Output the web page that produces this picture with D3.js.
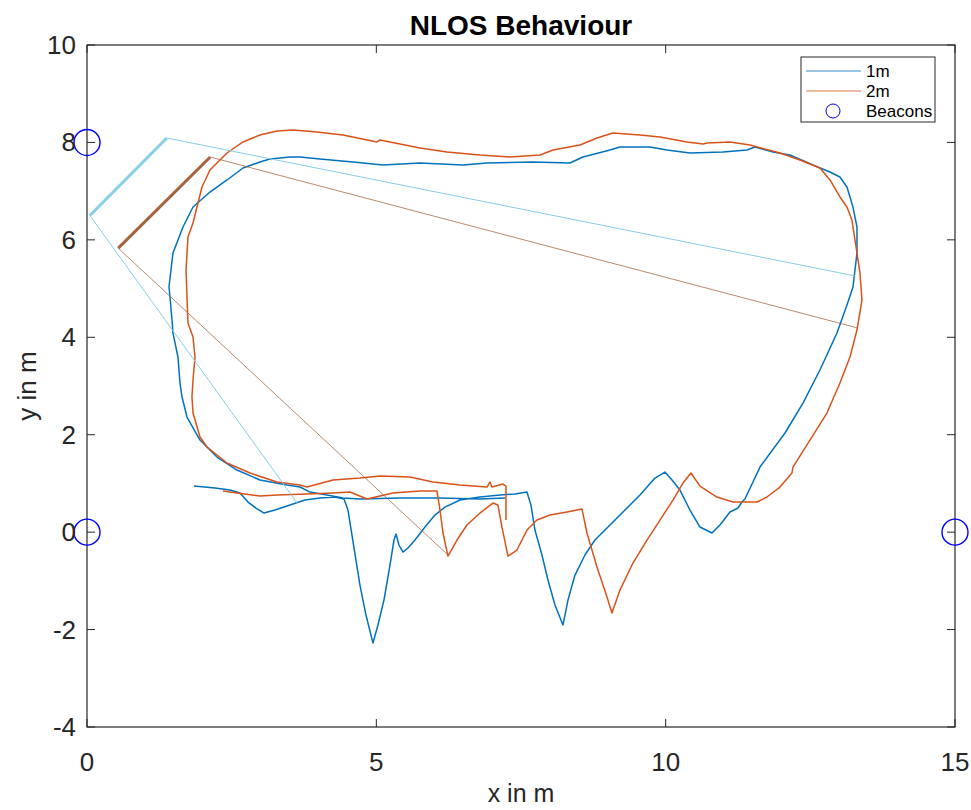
<!DOCTYPE html>
<html>
<head>
<meta charset="utf-8">
<script src="https://cdn.jsdelivr.net/npm/d3@7"></script>
<style>
  html, body { margin: 0; padding: 0; background: #fff; }
  svg { display: block; font-family: "Liberation Sans", Arial, Helvetica, sans-serif; }
</style>
</head>
<body>
<svg id="chart" width="971" height="810"></svg>
<script>
// Tracked positions for the 1 m run (x, y in metres)
const track1m = [
  [1.849,0.946],[2.212,0.905],[2.471,0.864],[2.644,0.803],[2.782,0.618],[2.920,0.495],[3.059,0.392],
  [3.249,0.454],[3.508,0.556],[3.767,0.659],[4.026,0.700],[4.285,0.721],[4.441,0.680],[4.510,0.454],
  [4.579,-0.060],[4.648,-0.573],[4.717,-1.086],[4.821,-1.702],[4.942,-2.277],[5.028,-1.907],[5.132,-1.394],
  [5.236,-0.675],[5.305,-0.162],[5.340,-0.039],[5.391,-0.265],[5.461,-0.409],[5.547,-0.326],[5.668,-0.162],
  [5.841,0.105],[6.013,0.351],[6.186,0.515],[6.446,0.659],[6.791,0.721],[7.137,0.762],[7.396,0.782],
  [7.603,0.823],[7.672,0.556],[7.741,0.043],[7.862,-0.470],[7.966,-0.983],[8.087,-1.497],[8.225,-1.907],
  [8.312,-1.394],[8.433,-0.881],[8.605,-0.470],[8.778,-0.162],[9.038,0.146],[9.297,0.454],[9.556,0.762],
  [9.815,1.111],[9.988,1.234],[10.109,1.070],[10.247,0.864],[10.420,0.454],[10.593,0.105],[10.800,-0.018],
  [10.938,0.146],[11.111,0.413],[11.249,0.495],[11.318,0.618],[11.370,0.680],[11.630,1.336],[12.062,2.035],
  [12.373,2.650],[12.666,3.328],[12.960,4.087],[13.133,4.662],[13.237,5.032],[13.306,5.730],[13.306,6.264],
  [13.237,6.674],[13.133,7.085],[13.012,7.290],[12.839,7.393],[12.545,7.536],[12.148,7.742],[11.854,7.803],
  [11.543,7.906],[11.405,7.844],[10.990,7.803],[10.420,7.783],[10.022,7.844],[9.729,7.906],[9.210,7.906],
  [9.038,7.844],[8.571,7.701],[8.346,7.578],[7.707,7.598],[6.912,7.578],[6.497,7.536],[5.754,7.578],
  [5.115,7.536],[4.597,7.598],[4.026,7.660],[3.681,7.701],[3.508,7.701],[3.162,7.660],[2.989,7.598],
  [2.696,7.475],[2.419,7.229],[2.125,6.982],[1.832,6.674],[1.659,6.264],[1.486,5.730],[1.417,5.032],
  [1.434,4.826],[1.469,4.354],[1.486,4.087],[1.572,3.595],[1.607,3.061],[1.642,2.774],[1.728,2.363],
  [1.953,1.891],[2.246,1.542],[2.592,1.275],[2.989,1.070],[3.456,0.967],[3.681,0.926],[3.853,0.823],
  [4.147,0.762],[4.424,0.700],[4.717,0.680],[5.409,0.700],[6.100,0.700],[6.791,0.680],[7.223,0.700]
];

// Tracked positions for the 2 m run (x, y in metres)
const track2m = [
  [2.350,0.844],[2.592,0.803],[2.989,0.741],[3.283,0.762],[3.802,0.782],[4.251,0.803],[4.545,0.823],
  [4.838,0.680],[5.288,0.803],[5.754,0.844],[6.048,0.844],[6.100,0.454],[6.152,-0.018],[6.238,-0.491],
  [6.394,-0.162],[6.566,0.146],[6.791,0.392],[7.016,0.597],[7.102,0.556],[7.171,0.105],[7.275,-0.491],
  [7.430,-0.367],[7.603,0.043],[7.776,0.248],[8.001,0.351],[8.294,0.413],[8.554,0.474],[8.640,-0.018],
  [8.813,-0.716],[8.986,-1.332],[9.072,-1.661],[9.210,-1.189],[9.435,-0.634],[9.677,-0.162],[9.902,0.248],
  [10.126,0.659],[10.299,1.008],[10.437,1.213],[10.593,0.946],[10.886,0.721],[11.163,0.618],[11.578,0.618],
  [11.750,0.721],[11.975,0.926],[12.182,1.213],[12.200,1.336],[12.493,1.891],[12.787,2.445],[13.012,3.061],
  [13.185,3.595],[13.306,4.149],[13.392,4.765],[13.358,5.319],[13.306,5.730],[13.219,6.407],[13.133,6.674],
  [13.012,6.880],[12.839,7.229],[12.666,7.475],[12.321,7.639],[11.975,7.783],[11.457,7.947],[11.111,8.009],
  [10.714,7.988],[10.645,7.968],[10.368,8.009],[9.902,8.111],[9.556,8.152],[9.089,8.194],[8.813,8.091],
  [8.519,7.947],[8.053,7.844],[7.828,7.742],[7.309,7.701],[6.791,7.742],[6.221,7.803],[5.754,7.885],
  [5.063,8.050],[5.011,8.009],[4.424,8.152],[3.974,8.214],[3.560,8.255],[3.283,8.235],[2.989,8.152],
  [2.696,8.009],[2.419,7.783],[2.125,7.434],[1.987,7.085],[1.918,6.756],[1.832,6.346],[1.745,6.058],
  [1.711,5.381],[1.728,4.826],[1.745,4.293],[1.832,4.005],[1.866,3.595],[1.832,3.123],[1.814,2.774],
  [1.832,2.445],[1.953,1.952],[2.074,1.747],[2.419,1.419],[2.817,1.213],[3.283,1.029],[3.681,0.967],
  [3.802,0.926],[4.251,1.070],[4.717,1.111],[5.063,1.152],[5.581,1.131],[5.979,1.029],[6.446,0.967],
  [6.912,0.926],[6.964,1.029],[6.998,0.926],[7.189,0.987],[7.240,0.946],[7.240,0.248]
];

// Beacon positions (metres)
const beaconX = [0, 0, 15];
const beaconY = [8, 0, 0];

// NLOS reflection paths: thick segment plus the two thin rays from its ends
const nlos1mThick = [[0.05,6.50],[1.38,8.09]];
const nlos1mRays = [
  [[1.38,8.09],[13.27,5.26]],
  [[0.05,6.50],[3.63,0.60]]
];
const nlos2mThick = [[0.54,5.83],[2.13,7.70]];
const nlos2mRays = [
  [[2.13,7.70],[13.32,4.19]],
  [[0.54,5.83],[6.24,-0.47]]
];

// Axis ticks and labels
const xTicks = [0, 5, 10, 15];
const yTicks = [-4, -2, 0, 2, 4, 6, 8, 10];
const seriesNames = ["1m", "2m", "Beacons"];
const titleText = "NLOS Behaviour";
const xLabel = "x in m";
const yLabel = "y in m";

const colors = {
  blue: "#0072BD",
  orange: "#D95319",
  beacon: "#0000FF",
  skyline: "#87cfe6",
  brownline: "#a5643f",
  axis: "#262626"
};

const svg = d3.select("#chart");
const margin = { left: 87, right: 16, top: 45, bottom: 83 };
const W = 971, H = 810;
const x = d3.scaleLinear().domain([0, 15]).range([margin.left, W - margin.right]);
const y = d3.scaleLinear().domain([-4, 10]).range([H - margin.bottom, margin.top]);

const plotG = svg.append("g");
const line = d3.line().x(d => x(d[0])).y(d => y(d[1]));

const dataG = plotG.append("g");

// Measured tracks
dataG.append("path").datum(track1m)
  .attr("d", line).attr("fill", "none")
  .attr("stroke", colors.blue).attr("stroke-width", 1.5).attr("stroke-linejoin", "round");
dataG.append("path").datum(track2m)
  .attr("d", line).attr("fill", "none")
  .attr("stroke", colors.orange).attr("stroke-width", 1.5).attr("stroke-linejoin", "round");

// NLOS rays
nlos1mRays.forEach(r => dataG.append("path").datum(r).attr("d", line)
  .attr("fill", "none").attr("stroke", colors.skyline).attr("stroke-width", 1));
nlos2mRays.forEach(r => dataG.append("path").datum(r).attr("d", line)
  .attr("fill", "none").attr("stroke", colors.brownline).attr("stroke-width", 0.9).attr("stroke-opacity", 0.85));
dataG.append("path").datum(nlos1mThick).attr("d", line)
  .attr("fill", "none").attr("stroke", colors.skyline).attr("stroke-width", 3);
dataG.append("path").datum(nlos2mThick).attr("d", line)
  .attr("fill", "none").attr("stroke", colors.brownline).attr("stroke-width", 3);

// Axes box with inward ticks
const axG = plotG.append("g").attr("stroke", colors.axis).attr("fill", "none");
const tickLen = 8;
axG.append("rect")
  .attr("x", x(0)).attr("y", y(10))
  .attr("width", x(15) - x(0)).attr("height", y(-4) - y(10))
  .attr("stroke-width", 1.2);
xTicks.forEach(t => {
  axG.append("line").attr("x1", x(t)).attr("x2", x(t)).attr("y1", y(-4)).attr("y2", y(-4) - tickLen);
  axG.append("line").attr("x1", x(t)).attr("x2", x(t)).attr("y1", y(10)).attr("y2", y(10) + tickLen);
});
yTicks.forEach(t => {
  axG.append("line").attr("x1", x(0)).attr("x2", x(0) + tickLen).attr("y1", y(t)).attr("y2", y(t));
  axG.append("line").attr("x1", x(15)).attr("x2", x(15) - tickLen).attr("y1", y(t)).attr("y2", y(t));
});

// Beacons on top
plotG.append("g").selectAll("circle")
  .data(beaconX.map((bx, i) => [bx, beaconY[i]]))
  .join("circle")
  .attr("cx", d => x(d[0])).attr("cy", d => y(d[1])).attr("r", 13)
  .attr("fill", "none").attr("stroke", colors.beacon).attr("stroke-width", 1.4);

// Tick labels
const tickFont = 26;
svg.append("g").selectAll("text").data(xTicks).join("text")
  .attr("x", d => x(d)).attr("y", y(-4) + 44)
  .attr("text-anchor", "middle").attr("font-size", tickFont).attr("fill", colors.axis)
  .text(d => d);
svg.append("g").selectAll("text").data(yTicks).join("text")
  .attr("x", x(0) - 11).attr("y", d => y(d) + 9)
  .attr("text-anchor", "end").attr("font-size", tickFont).attr("fill", colors.axis)
  .text(d => d);

// Title and axis labels
svg.append("text").attr("x", (x(0) + x(15)) / 2).attr("y", 35)
  .attr("text-anchor", "middle").attr("font-size", 28).attr("font-weight", "bold")
  .attr("fill", "#000").text(titleText);
svg.append("text").attr("x", (x(0) + x(15)) / 2).attr("y", 802)
  .attr("text-anchor", "middle").attr("font-size", 25).attr("fill", colors.axis).text(xLabel);
svg.append("text")
  .attr("transform", `translate(36, ${(y(-4) + y(10)) / 2}) rotate(-90)`)
  .attr("text-anchor", "middle").attr("font-size", 26).attr("fill", colors.axis).text(yLabel);

// Legend
const lg = svg.append("g").attr("transform", "translate(801,57)");
lg.append("rect").attr("width", 134).attr("height", 65)
  .attr("fill", "#fff").attr("stroke", colors.axis).attr("stroke-width", 1);
const legendRows = [
  { name: seriesNames[0], type: "line", color: colors.blue },
  { name: seriesNames[1], type: "line", color: colors.orange },
  { name: seriesNames[2], type: "circle", color: colors.beacon }
];
legendRows.forEach((r, i) => {
  const cy = 14 + i * 20;
  if (r.type === "line") {
    lg.append("line").attr("x1", 5).attr("x2", 60).attr("y1", cy).attr("y2", cy)
      .attr("stroke", r.color).attr("stroke-width", 1).attr("stroke-opacity", 0.8);
  } else {
    lg.append("circle").attr("cx", 32).attr("cy", cy).attr("r", 7)
      .attr("fill", "none").attr("stroke", r.color).attr("stroke-width", 1);
  }
  lg.append("text").attr("x", 65).attr("y", cy + 6)
    .attr("font-size", 17).attr("fill", "#000").text(r.name);
});
</script>
</body>
</html>
